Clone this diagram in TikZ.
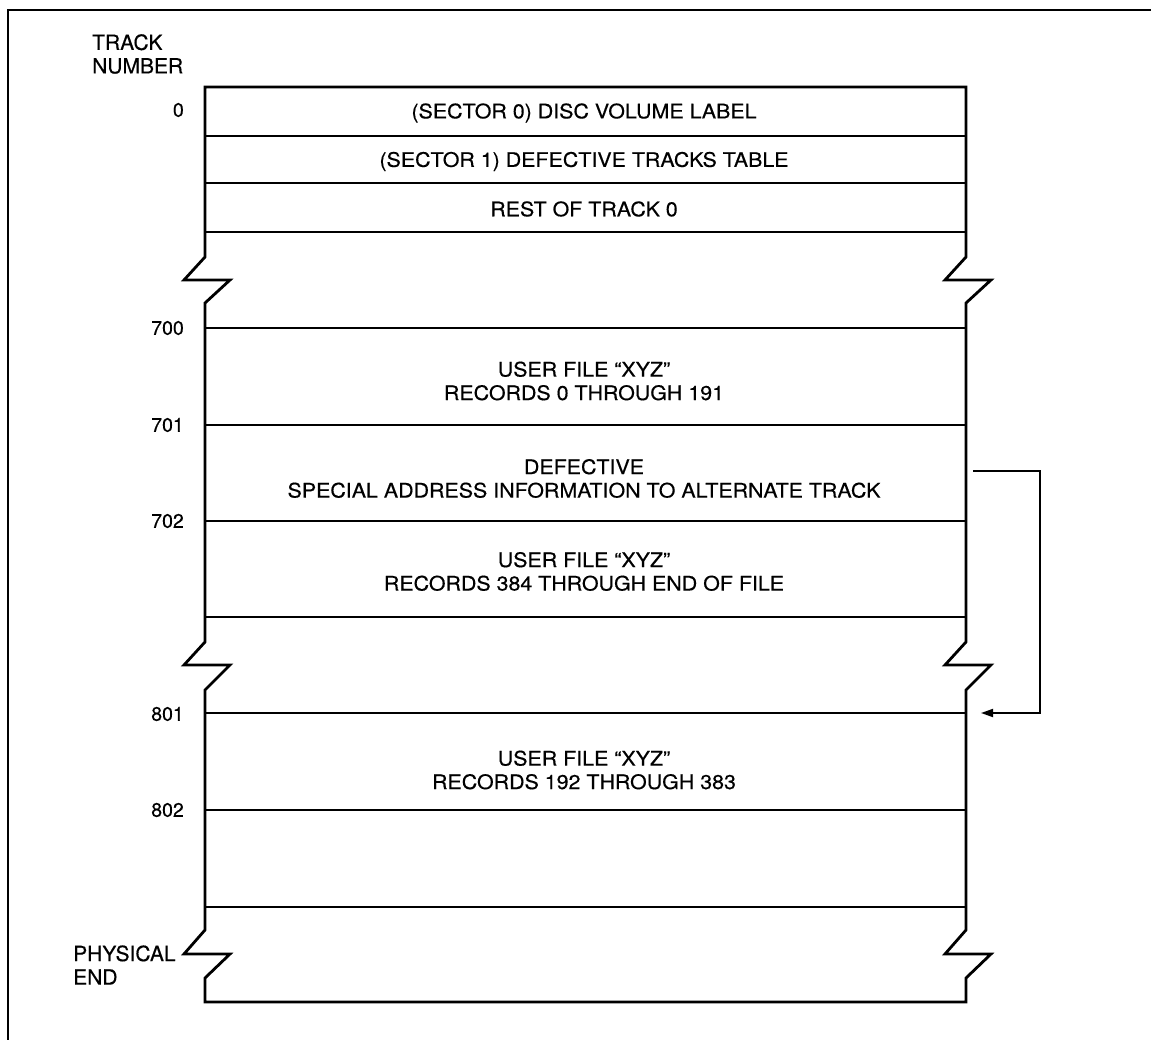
\documentclass[tikz,border=0pt]{standalone}
\usepackage{fontspec}
\setmainfont{TeX Gyre Heros}
\newfontfamily\boxfont[Ligatures=TeX,FakeStretch=1.07,FakeBold=0.4]{TeX Gyre Heros}
\newfontfamily\sidefont[Ligatures=TeX,FakeBold=0.4]{TeX Gyre Heros}
\usetikzlibrary{arrows.meta}

\begin{document}
\begin{tikzpicture}[
  x=1pt, y=-1pt,
  >={Triangle[length=12pt,width=8pt]},
  outline/.style={line width=2.8pt, line join=miter},
  rowline/.style={line width=2pt},
  frame/.style={line width=1.8pt},
  txt/.style={align=center, font=\boxfont\fontsize{20}{23.5}\selectfont, inner sep=0pt},
  tracknum/.style={anchor=east, font=\sidefont\fontsize{19.5}{23}\selectfont, inner sep=0pt},
  side/.style={align=left, font=\sidefont\fontsize{21}{23.5}\selectfont, inner sep=0pt},
  link/.style={->, line width=1.8pt}
]
  \useasboundingbox (0,0) rectangle (1151,1040);
  \draw[frame] (8,1040) -- (8,10) -- (1151,10);

  % track stack with its three breaks
  \draw[outline] (205,87) -- (205,257) -- (184,280) -- (230,280) -- (205,303)
    -- (205,642) -- (184,665) -- (230,665) -- (205,690)
    -- (205,930) -- (184,954) -- (230,954) -- (205,978)
    -- (205,1002) -- (966,1002) -- (966,978) -- (991,954) -- (945,954) -- (966,930)
    -- (966,690) -- (991,665) -- (945,665) -- (966,642)
    -- (966,303) -- (991,280) -- (945,280) -- (966,257)
    -- (966,87) -- cycle;
  \foreach \y in {136,183,232,328,425,521,617,713,810,907}
    \draw[rowline] (205,\y) -- (966,\y);

  \node[side, anchor=west] (head) at (92,54) {TRACK\\NUMBER};
  \node[tracknum] (t0) at (184,110) {0};
  \node[tracknum] (t700) at (184,328) {700};
  \node[tracknum] (t701) at (184,425) {701};
  \node[tracknum] (t702) at (184,521) {702};
  \node[tracknum] (t801) at (184,714) {801};
  \node[tracknum] (t802) at (184,810) {802};
  \node[side, anchor=west] (phys) at (73,965) {PHYSICAL\\END};

  \node[txt] (vol) at (584,113) {(SECTOR 0) DISC VOLUME LABEL};
  \node[txt] (dtt) at (584,161.5) {(SECTOR 1) DEFECTIVE TRACKS TABLE};
  \node[txt] (rest) at (584,209) {REST OF TRACK 0};
  \node[txt] (rec0) at (584,381) {USER FILE ``XYZ''\\RECORDS 0 THROUGH 191};
  \node[txt] (bad) at (584,478.5) {DEFECTIVE\\SPECIAL ADDRESS INFORMATION TO ALTERNATE TRACK};
  \node[txt] (rec384) at (584,571.5) {USER FILE ``XYZ''\\RECORDS 384 THROUGH END OF FILE};
  \node[txt] (rec192) at (584,770) {USER FILE ``XYZ''\\RECORDS 192 THROUGH 383};

  \coordinate (badout) at (973,471);
  \coordinate (alt) at (981,713);
  \draw[link] (badout) -- (1040,471) |- (alt);
\end{tikzpicture}
\end{document}
